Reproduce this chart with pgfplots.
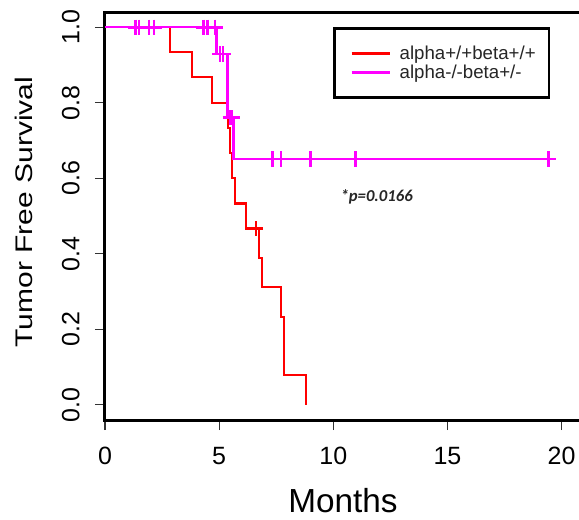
\documentclass[border=0pt]{standalone}
\usepackage{fontspec}
\setmainfont{Liberation Sans}
\newfontfamily\calib{Carlito}
\usepackage{graphicx}
\usepackage{pgfplots}
\pgfplotsset{compat=1.18}
\definecolor{kmred}{RGB}{255,0,0}
\definecolor{kmpink}{RGB}{255,0,255}
\begin{document}
\begin{tikzpicture}
\useasboundingbox (-78.75pt,-74.25pt) rectangle (355.5pt,315pt);
\clip (-78.75pt,-74.25pt) rectangle (355.5pt,315pt);
\begin{axis}[
    at={(0pt,0pt)}, anchor=south west,
    scale only axis, width=357pt, height=306pt,
    xmin=0, xmax=20.85, ymin=-0.04, ymax=1.04,
    xtick={0,5,10,15,20}, ytick={0,0.2,0.4,0.6,0.8,1},
    axis line style={line width=2.25pt},
    tick pos=left, tick align=outside, major tick length=7.5pt,
    major tick style={line width=0.9pt, black!80},
    /pgf/number format/assume math mode=true,
    tick label style={font=\fontsize{18.75}{20}\selectfont, inner sep=0pt},
    yticklabel style={rotate=90, anchor=south,
        /pgf/number format/.cd, fixed, fixed zerofill, precision=1},
    xticklabel style={anchor=north},
    xticklabel shift=12.75pt, yticklabel shift=11.25pt,
    xlabel={Months},
    xlabel style={at={(axis description cs:0.5,-0.2255)}, anchor=base, inner sep=0pt,
        font=\fontsize{25}{28}\selectfont},
    ylabel={\scalebox{1.25}[1]{Tumor Free Survival}},
    ylabel style={at={(axis description cs:-0.1513,0.51)}, anchor=south, inner sep=0pt,
        font=\fontsize{18}{20}\selectfont},
    legend style={at={(axis description cs:0.4796,0.963)}, anchor=north west,
        draw=black, line width=2pt, font=\fontsize{14}{16}\selectfont,
        inner xsep=9.5pt, inner ysep=12.5pt, row sep=1.5pt,
        nodes={inner sep=0.5pt, text=black!85},
        /tikz/every odd column/.append style={column sep=6pt}},
    legend cell align=left,
    legend image code/.code={\path (0pt,0pt); \draw[#1, line width=2.2pt] (2.25pt,0pt) -- (30.75pt,0pt);},
]
% alpha+/+beta+/+ (Kaplan-Meier steps)
\addplot[kmred, line width=1.6pt, const plot] coordinates {
    (0,1) (2.85,0.933) (3.80,0.867) (4.67,0.800) (5.40,0.733) (5.48,0.667)
    (5.55,0.600) (5.69,0.533) (6.16,0.467) (6.75,0.389) (6.86,0.311)
    (7.70,0.233) (7.84,0.078) (8.80,0)
};
\addlegendentry{alpha+/+beta+/+}
% alpha-/-beta+/-
\addplot[kmpink, line width=1.9pt, const plot] coordinates {
    (0,1) (4.89,0.929) (5.37,0.760) (5.62,0.651) (19.42,0.651)
};
\addlegendentry{alpha-/-beta+/-}
% censor marks
\addplot[kmred, only marks, mark=+, mark size=5.5pt, line width=1.7pt, forget plot]
    coordinates {(6.61,0.467)};
\addplot[kmpink, only marks, mark=+, mark size=5.7pt, line width=2.1pt, forget plot]
    coordinates {
    (1.34,1) (1.49,1) (1.93,1) (2.15,1) (4.31,1) (4.48,1) (4.82,1)
    (5.04,0.929) (5.17,0.929) (5.48,0.760) (5.56,0.760)
    (7.33,0.651) (7.71,0.651) (9.01,0.651) (10.98,0.651) (19.42,0.651)
};
\node[font=\calib\fontsize{12.5}{14}\selectfont\bfseries\itshape, text=black!85]
    at (axis cs:11.9,0.551) {*p=0.0166};
\end{axis}
\end{tikzpicture}
\end{document}
